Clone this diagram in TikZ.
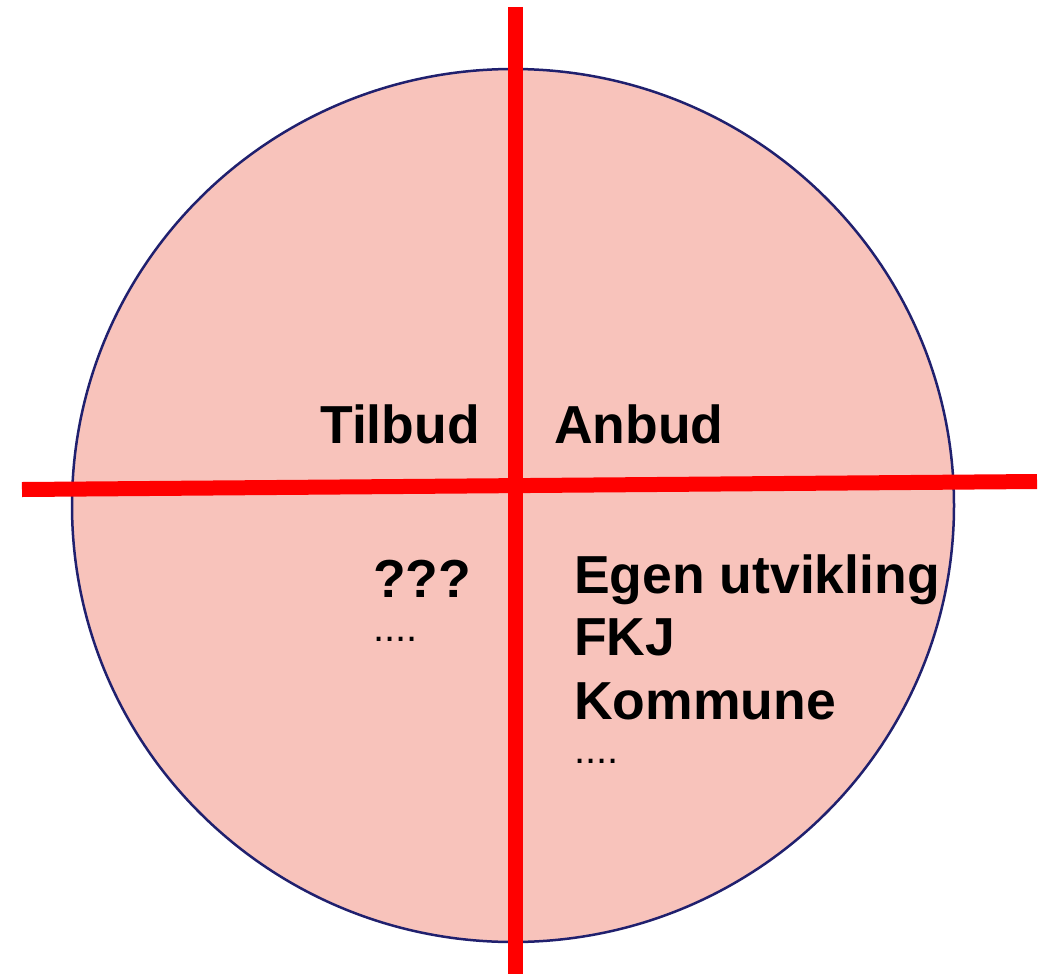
\documentclass[tikz,border=0pt]{standalone}
\usepackage{fontspec}
\setmainfont{Liberation Sans}
\usepackage{xcolor}
\usepackage{tikz}
\usetikzlibrary{positioning}

\definecolor{sirkelfyll}{RGB}{248,195,187}
\definecolor{sirkelkant}{RGB}{32,32,110}

\begin{document}
\begin{tikzpicture}[x=1pt, y=-1pt,
  tekst/.style={inner sep=0pt, font=\fontsize{53.5}{63}\selectfont\bfseries},
  prikker/.style={inner sep=0pt, font=\fontsize{40}{48}\selectfont}]
  \useasboundingbox (0,0) rectangle (1046,974);

  \fill[sirkelfyll, draw=sirkelkant, line width=2.5pt] (513,505.5) ellipse [x radius=441pt, y radius=436.5pt];

  \coordinate (venstre) at (22,489.5);
  \coordinate (hoyre) at (1037,481.5);
  \coordinate (topp) at (515.5,7);
  \coordinate (bunn) at (515.5,974);
  \draw[red, line width=15pt] (venstre) -- (hoyre);
  \draw[red, line width=15pt] (topp) -- (bunn);

  \node[tekst, anchor=base east] (tilbud) at (480,443) {Tilbud};
  \node[tekst, anchor=base west] (anbud) at (554,443) {Anbud};

  \node[tekst, anchor=base west] (ukjent) at (373,597) {???};
  \node[prikker, anchor=base west] (ukjentmer) at (373,641) {....};

  \node[tekst, anchor=base west] (egen) at (574,593) {Egen utvikling};
  \node[tekst, anchor=base west] (fkj) at (574,655) {FKJ};
  \node[tekst, anchor=base west] (kommune) at (574,719) {Kommune};
  \node[prikker, anchor=base west] (anbudmer) at (574,763) {....};
\end{tikzpicture}
\end{document}
